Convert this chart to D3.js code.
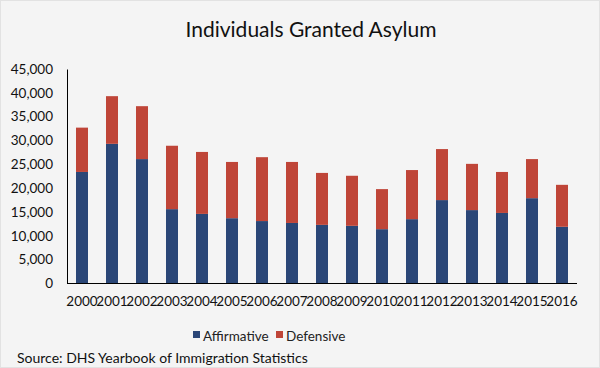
<!DOCTYPE html>
<html>
<head>
<meta charset="utf-8">
<script src="https://cdn.jsdelivr.net/npm/d3@7"></script>
<style>
  body { margin: 0; background: #f4f4f4; }
  svg { display: block; font-family: Lato, "Open Sans", sans-serif; }
</style>
</head>
<body>
<svg id="chart" width="600" height="368"></svg>
<script>
// data
const years = ["2000","2001","2002","2003","2004","2005","2006","2007","2008",
               "2009","2010","2011","2012","2013","2014","2015","2016"];
const affirmative = [23400, 29300, 26100, 15600, 14600, 13700, 13100, 12700, 12300,
                     12100, 11400, 13500, 17500, 15400, 14800, 17900, 11900];
const defensive   = [ 9300, 10000, 11100, 13300, 13000, 11800, 13400, 12800, 10900,
                     10500,  8400, 10300, 10700,  9700,  8600,  8200,  8800];
const yTicks = [0, 5000, 10000, 15000, 20000, 25000, 30000, 35000, 40000, 45000];
const seriesNames = ["Affirmative", "Defensive"];
const colors = ["#2a4677", "#bf4538"];

const svg = d3.select("#chart");
const W = 600, H = 368;

svg.append("rect").attr("x", 0.5).attr("y", 0.5).attr("width", W - 1).attr("height", H - 1)
  .attr("fill", "#f4f4f4").attr("stroke", "#e2e2e2");

const x = d3.scaleBand().domain(years).range([67, 577]).paddingInner(0.6).paddingOuter(0.3);
const y = d3.scaleLinear().domain([0, 45000]).range([283.5, 69]);

// title
svg.append("text").attr("x", 311).attr("y", 37).attr("text-anchor", "middle")
  .attr("font-size", 21).attr("fill", "#111").text("Individuals Granted Asylum");

// stacked bars
const rows = years.map((yr, i) => ({ year: yr, Affirmative: affirmative[i], Defensive: defensive[i] }));
const stack = d3.stack().keys(seriesNames)(rows);

svg.append("g").selectAll("g").data(stack).enter().append("g")
  .attr("fill", (d, i) => colors[i])
  .selectAll("rect").data(d => d).enter().append("rect")
  .attr("x", d => x(d.data.year))
  .attr("width", x.bandwidth())
  .attr("y", d => y(d[1]))
  .attr("height", d => y(d[0]) - y(d[1]));

// y axis
const yAxis = svg.append("g").attr("transform", "translate(67,0)")
  .call(d3.axisLeft(y).tickValues(yTicks).tickSize(0).tickPadding(14).tickFormat(d3.format(",")));
yAxis.select(".domain").attr("stroke", "#000");
yAxis.selectAll("text").attr("font-size", 13.5).attr("fill", "#111").attr("font-family", "Lato, sans-serif");

// x axis
const xAxis = svg.append("g").attr("transform", "translate(0,283.5)")
  .call(d3.axisBottom(x).tickSize(0).tickPadding(13));
xAxis.select(".domain").attr("stroke", "#000").attr("d", "M67,0H577");
xAxis.selectAll("text").attr("font-size", 13.5).attr("fill", "#111").attr("font-family", "Lato, sans-serif");

// legend
const legend = svg.append("g");
const legX = [193, 276];
seriesNames.forEach((name, i) => {
  legend.append("rect").attr("x", legX[i]).attr("y", 331).attr("width", 7).attr("height", 7).attr("fill", colors[i]);
  legend.append("text").attr("x", legX[i] + 10).attr("y", 341).attr("font-size", 13.5)
    .attr("fill", "#222").text(name);
});

// source
svg.append("text").attr("x", 17).attr("y", 363).attr("font-size", 14).attr("fill", "#111")
  .text("Source: DHS Yearbook of Immigration Statistics");
</script>
</body>
</html>
